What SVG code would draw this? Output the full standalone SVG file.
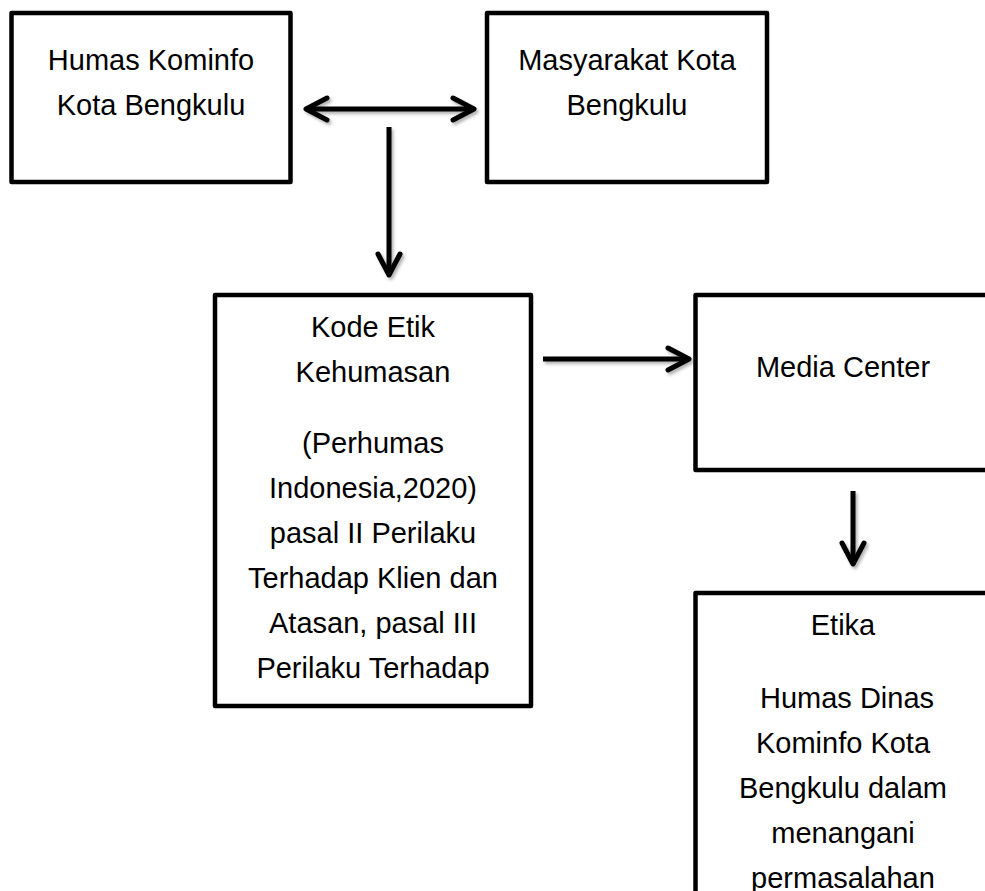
<svg xmlns="http://www.w3.org/2000/svg" width="985" height="891" viewBox="0 0 985 891">
  <style>
    .box { fill: #ffffff; stroke: #000000; stroke-width: 4.5; stroke-linejoin: round; }
    .lbl { font-family: "Liberation Sans", Arial, sans-serif; font-size: 29px; fill: #000000; text-anchor: middle; }
    .conn { stroke: #000000; stroke-width: 5; fill: none; }
  </style>
  <defs>
    <filter id="shadow" x="-20%" y="-20%" width="140%" height="140%">
      <feDropShadow dx="2" dy="2.5" stdDeviation="1.5" flood-color="#000000" flood-opacity="0.3"/>
    </filter>
    <marker id="chev" viewBox="-26 -15 30 30" refX="0" refY="0" markerWidth="30" markerHeight="30" markerUnits="userSpaceOnUse" orient="auto-start-reverse">
      <path d="M-21,-11 L0,0 L-21,11" fill="none" stroke="#000000" stroke-width="5" stroke-linecap="round" stroke-linejoin="round"/>
    </marker>
  </defs>
  <rect width="985" height="891" fill="#ffffff"/>

  <g id="node-humas">
    <rect class="box" x="11.5" y="13" width="279" height="169"/>
    <text class="lbl" x="151" y="70">Humas Kominfo</text>
    <text class="lbl" x="151" y="115">Kota Bengkulu</text>
  </g>

  <g id="node-masyarakat">
    <rect class="box" x="487" y="13" width="280" height="169"/>
    <text class="lbl" x="627" y="70">Masyarakat Kota</text>
    <text class="lbl" x="627" y="115">Bengkulu</text>
  </g>

  <g id="node-kode-etik">
    <rect class="box" x="215" y="295" width="316" height="411"/>
    <text class="lbl" x="373" y="337">Kode Etik</text>
    <text class="lbl" x="373" y="382">Kehumasan</text>
    <text class="lbl" x="373" y="453">(Perhumas</text>
    <text class="lbl" x="373" y="498">Indonesia,2020)</text>
    <text class="lbl" x="373" y="543">pasal II Perilaku</text>
    <text class="lbl" x="373" y="588">Terhadap Klien dan</text>
    <text class="lbl" x="373" y="633">Atasan, pasal III</text>
    <text class="lbl" x="373" y="678">Perilaku Terhadap</text>
  </g>

  <g id="node-media-center">
    <rect class="box" x="695.5" y="295" width="300" height="175"/>
    <text class="lbl" x="843" y="377">Media Center</text>
  </g>

  <g id="node-etika">
    <rect class="box" x="695.5" y="593" width="300" height="320"/>
    <text class="lbl" x="843" y="635">Etika</text>
    <text class="lbl" x="847" y="708">Humas Dinas</text>
    <text class="lbl" x="843" y="753">Kominfo Kota</text>
    <text class="lbl" x="843" y="798">Bengkulu dalam</text>
    <text class="lbl" x="843" y="843">menangani</text>
    <text class="lbl" x="843" y="888">permasalahan</text>
  </g>

  <g id="connectors" filter="url(#shadow)">
    <line class="conn" x1="306" y1="109" x2="474" y2="109" marker-start="url(#chev)" marker-end="url(#chev)"/>
    <line class="conn" x1="389" y1="127" x2="389" y2="275"/>
    <path d="M378,254 L389,275 L400,254" fill="none" stroke="#000" stroke-width="5" stroke-linecap="round" stroke-linejoin="round"/>
    <line class="conn" x1="543" y1="359" x2="689" y2="359" marker-end="url(#chev)"/>
    <line class="conn" x1="853" y1="491" x2="853" y2="564" marker-end="url(#chev)"/>
  </g>
</svg>
